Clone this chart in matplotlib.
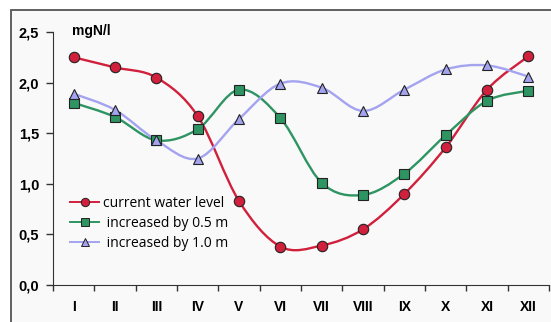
import numpy as np
import matplotlib.pyplot as plt
from matplotlib.path import Path
from matplotlib.patches import PathPatch, Rectangle
from matplotlib.lines import Line2D

months = ['I', 'II', 'III', 'IV', 'V', 'VI', 'VII', 'VIII', 'IX', 'X', 'XI', 'XII']
current_level = [2.25, 2.15, 2.05, 1.67, 0.83, 0.38, 0.39, 0.55, 0.90, 1.36, 1.93, 2.26]
plus_05m = [1.80, 1.66, 1.43, 1.54, 1.93, 1.65, 1.01, 0.89, 1.10, 1.48, 1.82, 1.92]
plus_10m = [1.89, 1.73, 1.43, 1.25, 1.64, 1.99, 1.95, 1.72, 1.93, 2.13, 2.17, 2.06]

red = '#d0203c'
green = '#2e9462'
blue = '#a3a3f0'


def smooth_path(x, y, t=1/6):
    # excel-ish smoothed line: catmull-rom turned into bezier segments
    x = np.asarray(x, float)
    y = np.asarray(y, float)
    verts = [(x[0], y[0])]
    codes = [Path.MOVETO]
    n = len(x)
    for i in range(n - 1):
        i0 = max(i - 1, 0)
        i3 = min(i + 2, n - 1)
        c1 = (x[i] + (x[i + 1] - x[i0]) * t, y[i] + (y[i + 1] - y[i0]) * t)
        c2 = (x[i + 1] - (x[i3] - x[i]) * t, y[i + 1] - (y[i3] - y[i]) * t)
        verts += [c1, c2, (x[i + 1], y[i + 1])]
        codes += [Path.CURVE4] * 3
    return Path(verts, codes)


fig = plt.figure(figsize=(5.51, 3.22), dpi=100)
fig.patch.set_facecolor('white')
# outer frame of the picture
fig.patches.append(Rectangle((11 / 551, -0.1), 1.2, 1 - 10 / 322 + 0.1,
                             transform=fig.transFigure, facecolor='#f9f9f9',
                             edgecolor='#555555', linewidth=1.3, zorder=-5))

ax = fig.add_axes([53 / 551, 37 / 322, 496 / 551, 253 / 322])
ax.set_facecolor('none')

x = np.arange(len(months))
series = [
    (current_level, red, 'o', 'current water level', 7.5),
    (plus_05m, green, 's', ' increased by 0.5 m', 7),
    (plus_10m, blue, '^', ' increased by 1.0 m', 7.5),
]
handles = []
for vals, col, mk, lab, ms in series:
    ax.add_patch(PathPatch(smooth_path(x, vals), facecolor='none', edgecolor=col, lw=1.7, zorder=2))
    ax.plot(x, vals, ls='none', marker=mk, ms=ms, mfc=col, mec='#222222', mew=0.8, zorder=3)
    handles.append(Line2D([], [], color=col, lw=1.4, marker=mk, ms=ms - 1.5, mfc=col,
                          mec='#222222', mew=0.7, label=lab))

ax.set_xlim(-0.5, 11.5)
ax.set_ylim(0, 2.5)
ax.set_xticks(x)
ax.set_xticklabels(months, fontweight='bold', fontsize=10, family='Liberation Sans')
ax.set_xticks(np.arange(-0.5, 12, 1), minor=True)
ax.tick_params(axis='x', which='major', length=0, pad=11)
ax.tick_params(axis='x', which='minor', length=4, width=1, color='#333333')
ax.set_yticks([0, 0.5, 1.0, 1.5, 2.0, 2.5])
ax.set_yticklabels(['0,0', '0,5', '1,0', '1,5', '2,0', '2,5'], fontweight='bold',
                   fontsize=10.5, family='Liberation Sans')
ax.tick_params(axis='y', length=5, width=1, color='#333333', pad=5)

for s in ['top', 'right']:
    ax.spines[s].set_visible(False)
ax.spines['left'].set_color('#333333')
ax.spines['bottom'].set_color('#333333')

ax.text(-0.04, 2.51, 'mgN/l', fontweight='bold', fontsize=10, family='Liberation Sans',
        va='center', ha='left')

ax.legend(handles=handles, loc='lower left', bbox_to_anchor=(0.009, 0.085), frameon=False,
          handlelength=2.1, handletextpad=0.25, labelspacing=0.35,
          prop={'family': 'Open Sans', 'size': 10})

fig.savefig('out.png', dpi=100)
